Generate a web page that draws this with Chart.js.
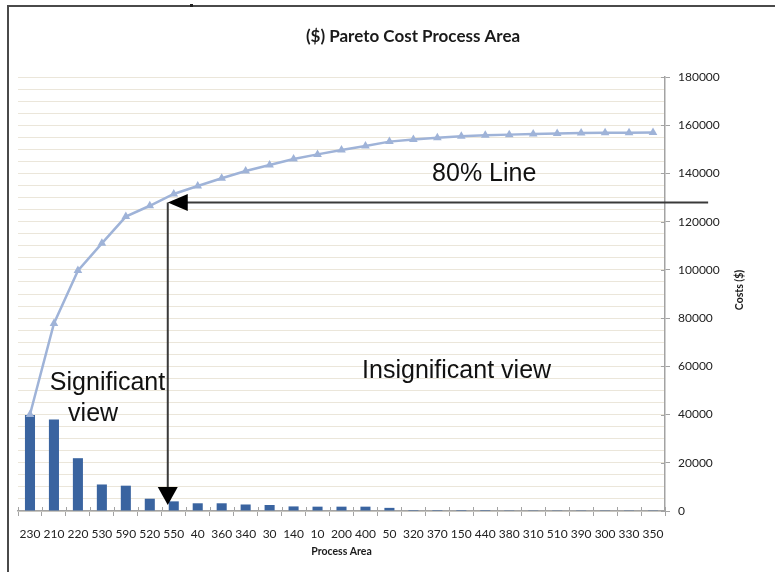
<!DOCTYPE html>
<html>
<head>
<meta charset="utf-8">
<script src="https://cdn.jsdelivr.net/npm/chart.js@4/dist/chart.umd.min.js"></script>
<style>
  html, body { margin: 0; padding: 0; background: #fff; }
  #wrap { position: relative; width: 775px; height: 572px; overflow: hidden; }
  #c { display: block; }
  #frame {
    position: absolute; left: 7px; top: 5px; width: 820px; height: 620px;
    border-left: 2px solid #4a4a4a; border-top: 2px solid #4a4a4a;
    pointer-events: none;
  }
  #dot { position: absolute; left: 190px; top: 4px; width: 3px; height: 3px; background: #222; }
</style>
</head>
<body>
<div id="wrap">
  <canvas id="c" width="775" height="572"></canvas>
  <div id="frame"></div>
  <div id="dot"></div>
</div>
<script>
// Process areas, sorted by cost (largest first)
const processAreas = ['230','210','220','530','590','520','550','40','360','340','30','140','10','200','400','50',
                      '320','370','150','440','380','310','510','390','300','330','350'];

// Cost per process area ($)
const costs = [39800, 38000, 21900, 11000, 10500, 5100, 4000, 3200, 3200, 2700, 2500, 1900, 1800, 1800, 1800, 1300,
               400, 400, 400, 400, 100, 100, 100, 100, 100, 100, 100];

// Cumulative cost ($)
const cumulative = [40000, 77800, 99700, 111000, 122100, 126600, 131500, 134800, 138000, 141000, 143500, 146000,
                    147900, 149700, 151400, 153200, 154100, 154800, 155400, 155800, 156100, 156400, 156600,
                    156800, 156900, 156900, 157000];

// Right axis range and labelled step
const axisMax = 180000;
const labelStep = 20000;
const gridStep = 5000;

// 80% threshold and where it meets the curve (category position)
const threshold = 128000;
const cutoffIndex = 5.75;
const arrowEndIndex = 28.3;
const arrowTipValue = 2500;

// Text notes placed on the chart: [text, category position, value]
const notes = [
  ['Significant', 0.83, 50000],
  ['view', 1.59, 37300],
  ['Insignificant view', 13.86, 55200],
  ['80% Line', 16.78, 136900]
];

const chartTitle = '($) Pareto Cost Process Area';
const xTitle = 'Process Area';
const yTitle = 'Costs ($)';

const axisGrey = '#a3a3a3';

const overlay = {
  id: 'overlay',
  afterDatasetsDraw(chart) {
    const ctx = chart.ctx;
    const xs = chart.scales.x, ys = chart.scales.y;

    // Inner half of the tick marks, so they cross the axis lines
    ctx.save();
    ctx.strokeStyle = axisGrey;
    ctx.lineWidth = 1;
    ctx.beginPath();
    for (let i = 0; i <= processAreas.length; i++) {
      const px = Math.round(xs.getPixelForValue(i - 0.5)) + 0.5;
      ctx.moveTo(px, xs.top);
      ctx.lineTo(px, xs.top - 4);
    }
    for (let v = 0; v <= axisMax; v += labelStep) {
      const py = Math.round(ys.getPixelForValue(v)) + 0.5;
      ctx.moveTo(ys.left, py);
      ctx.lineTo(ys.left - 4, py);
    }
    ctx.stroke();
    ctx.restore();

    // Chart title
    ctx.save();
    ctx.fillStyle = '#1a1a1a';
    ctx.font = 'bold 17px Lato';
    ctx.textAlign = 'center';
    ctx.textBaseline = 'middle';
    ctx.fillText(chartTitle, 413, 37);

    // Right axis title, reading upwards
    ctx.translate(ys.right - 35, (ys.top + ys.bottom) / 2 - 4);
    ctx.rotate(-Math.PI / 2);
    ctx.font = 'bold 10.5px Lato';
    ctx.fillText(yTitle, 0, 0);
    ctx.restore();

    // 80% arrows
    const xCut = xs.getPixelForValue(cutoffIndex);
    const yThr = ys.getPixelForValue(threshold);
    const xEnd = xs.getPixelForValue(arrowEndIndex);
    const yTip = ys.getPixelForValue(arrowTipValue);
    ctx.save();
    ctx.strokeStyle = '#3a3a3a';
    ctx.lineWidth = 2;
    ctx.beginPath();
    ctx.moveTo(xEnd, yThr);
    ctx.lineTo(xCut + 10, yThr);
    ctx.moveTo(xCut, yThr);
    ctx.lineTo(xCut, yTip - 10);
    ctx.stroke();
    ctx.fillStyle = '#000';
    ctx.beginPath();
    ctx.moveTo(xCut, yThr);
    ctx.lineTo(xCut + 20, yThr - 8.5);
    ctx.lineTo(xCut + 20, yThr + 8.5);
    ctx.closePath();
    ctx.fill();
    ctx.beginPath();
    ctx.moveTo(xCut, yTip);
    ctx.lineTo(xCut - 10, yTip - 18);
    ctx.lineTo(xCut + 10, yTip - 18);
    ctx.closePath();
    ctx.fill();

    // Notes
    ctx.fillStyle = '#111';
    ctx.font = '25px "Liberation Sans"';
    ctx.textAlign = 'left';
    ctx.textBaseline = 'alphabetic';
    notes.forEach(([t, i, v]) => ctx.fillText(t, xs.getPixelForValue(i), ys.getPixelForValue(v)));
    ctx.restore();
  }
};

new Chart(document.getElementById('c'), {
  data: {
    labels: processAreas,
    datasets: [
      {
        type: 'line',
        label: 'Cumulative',
        data: cumulative,
        order: 0,
        borderColor: '#9fb3d8',
        backgroundColor: '#9fb3d8',
        borderWidth: 2.5,
        tension: 0,
        pointStyle: 'triangle',
        pointRadius: 5,
        pointBorderWidth: 0,
        pointBackgroundColor: '#9fb3d8'
      },
      {
        type: 'bar',
        label: 'Cost',
        data: costs,
        order: 1,
        backgroundColor: '#3a64a0',
        barPercentage: 0.42,
        categoryPercentage: 1
      }
    ]
  },
  options: {
    responsive: false,
    animation: false,
    devicePixelRatio: 1,
    layout: { padding: { left: 18, top: 77, right: 0, bottom: 0 } },
    plugins: { legend: { display: false }, tooltip: { enabled: false }, title: { display: false } },
    scales: {
      x: {
        type: 'category',
        offset: true,
        grid: { display: true, drawOnChartArea: false, drawTicks: true, tickLength: 5, color: axisGrey, offset: true },
        border: { display: true, color: axisGrey, width: 1.5 },
        ticks: { autoSkip: false, maxRotation: 0, minRotation: 0, padding: 11, color: '#222',
                 font: { family: 'Lato', size: 12 } },
        title: { display: true, text: xTitle, color: '#1a1a1a',
                 font: { family: 'Lato', size: 10.5, weight: 'bold' }, padding: { top: 0, bottom: 14 } },
        afterFit(s) { s.height = 61; }
      },
      y: {
        type: 'linear',
        position: 'right',
        min: 0,
        max: axisMax,
        grid: {
          color: '#ebe6da',
          lineWidth: 1,
          tickLength: 5,
          tickColor: c => (c.tick && c.tick.value % labelStep === 0) ? axisGrey : 'rgba(0,0,0,0)'
        },
        border: { display: true, color: axisGrey, width: 1.5 },
        ticks: {
          stepSize: gridStep,
          autoSkip: false,
          padding: 8,
          color: '#222',
          font: { family: 'Lato', size: 12 },
          callback: v => (v % labelStep === 0 ? String(v) : '')
        },
        afterFit(s) { s.width = 110; }
      }
    }
  },
  plugins: [overlay]
});
</script>
</body>
</html>
